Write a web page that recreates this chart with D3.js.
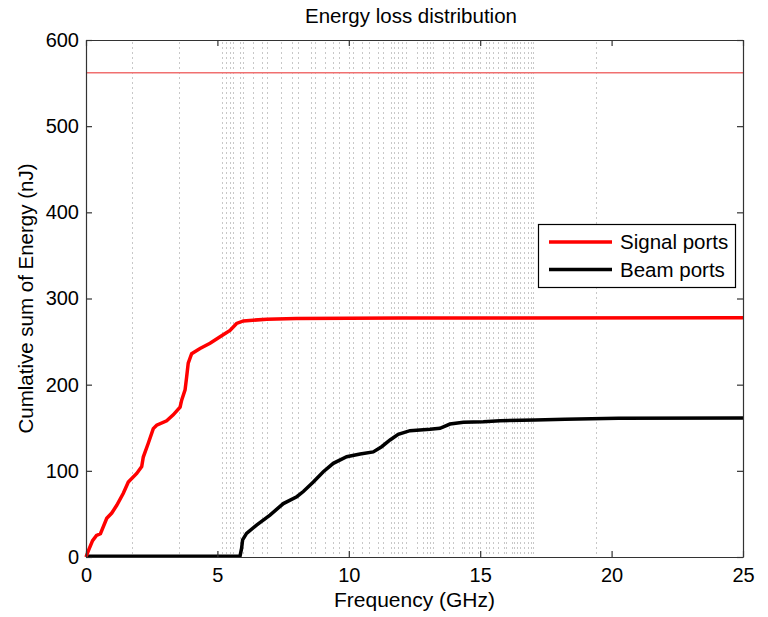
<!DOCTYPE html>
<html>
<head>
<meta charset="utf-8">
<script src="https://cdn.jsdelivr.net/npm/d3@7"></script>
<style>
  body { margin: 0; background: #fff; }
  svg { display: block; font-family: "Liberation Sans", Arial, sans-serif; }
</style>
</head>
<body>
<div id="chart"></div>
<script>
// Data
const signalPorts = [ // [GHz, nJ]
  [0, 0], [0.1, 8], [0.25, 19], [0.4, 25], [0.55, 27], [0.79, 45], [0.98, 51],
  [1.17, 60], [1.42, 74], [1.61, 87], [1.93, 97], [2.12, 105], [2.18, 116],
  [2.37, 132], [2.56, 149], [2.69, 153], [3.07, 158], [3.32, 165], [3.58, 174],
  [3.64, 182], [3.77, 194], [3.83, 209], [3.89, 225], [4.02, 236], [4.34, 242],
  [4.72, 248], [5.22, 258], [5.48, 263], [5.73, 271], [5.99, 274], [6.88, 276],
  [8, 276.8], [12, 277.3], [25, 277.6]
];
const beamPorts = [
  [0, 0.8], [5.86, 1], [5.92, 10], [5.96, 20], [6.11, 27.5], [6.49, 37],
  [7.0, 48.7], [7.51, 62], [8.02, 70], [8.27, 76], [8.65, 87], [9.03, 99],
  [9.41, 108.7], [9.92, 116.4], [10.43, 119.5], [10.93, 122], [11.25, 128],
  [11.57, 135.8], [11.88, 142.4], [12.33, 146.6], [13.09, 148.2], [13.47, 149.3],
  [13.85, 154.3], [14.36, 156.3], [15.12, 157], [15.75, 158.2], [17.09, 159],
  [18.23, 159.8], [20.26, 161], [25, 161.2]
];
const totalEnergy = 562;
const modeFreqs = [
  1.74, 3.52, 5.19, 5.33, 5.47, 5.61, 5.87, 5.99, 6.34, 6.69, 6.90, 7.42, 7.83,
  8.06, 8.55, 8.73, 9.11, 9.41, 9.61, 10.01, 10.17, 10.49, 10.78, 11.10, 11.29,
  11.61, 11.72, 11.86, 12.01, 12.18, 12.58, 12.81, 12.96, 13.09, 13.19, 13.60,
  13.81, 13.98, 14.30, 14.38, 14.59, 14.70, 14.93, 14.99, 15.22, 15.33, 15.50,
  15.69, 15.92, 15.99, 16.20, 16.29, 16.41, 16.51, 16.68, 16.81, 16.92, 17.02, 19.42
];
const xTicks = [0, 5, 10, 15, 20, 25];
const yTicks = [0, 100, 200, 300, 400, 500, 600];
const legendItems = [
  { name: "Signal ports", color: "#ff0000" },
  { name: "Beam ports", color: "#000000" }
];

const width = 768, height = 617;
const margin = { top: 40, right: 25, bottom: 60, left: 86 };

const svg = d3.select("#chart").append("svg")
  .attr("width", width)
  .attr("height", height);

const x = d3.scaleLinear().domain([0, 25]).range([margin.left, width - margin.right]);
const y = d3.scaleLinear().domain([0, 600]).range([height - margin.bottom, margin.top]);

// mode frequency markers (dotted)
svg.selectAll(".mode")
  .data(modeFreqs)
  .enter()
  .append("line")
  .attr("class", "mode")
  .attr("x1", d => Math.round(x(d)) + 0.5)
  .attr("x2", d => Math.round(x(d)) + 0.5)
  .attr("y1", y(600) + 2)
  .attr("y2", y(0) - 3)
  .attr("stroke", "#c8c8c8")
  .attr("stroke-width", 1)
  .attr("stroke-dasharray", "2,3");

// total energy line
svg.append("line")
  .attr("x1", x(0)).attr("x2", x(25))
  .attr("y1", y(totalEnergy)).attr("y2", y(totalEnergy))
  .attr("stroke", "#f07070")
  .attr("stroke-width", 1.5);

const line = d3.line().x(d => x(d[0])).y(d => y(d[1]));

svg.append("path")
  .datum(beamPorts)
  .attr("d", line)
  .attr("fill", "none")
  .attr("stroke", "#000")
  .attr("stroke-width", 3.5);

svg.append("path")
  .datum(signalPorts)
  .attr("d", line)
  .attr("fill", "none")
  .attr("stroke", "#ff0000")
  .attr("stroke-width", 3.5);

// axes, MATLAB style box with inward ticks
const axisColor = "#333";
const xBottom = svg.append("g")
  .attr("transform", `translate(0,${y(0)})`)
  .call(d3.axisBottom(x).tickValues(xTicks).tickSizeInner(-6).tickSizeOuter(0).tickPadding(11));
const xTop = svg.append("g")
  .attr("transform", `translate(0,${y(600)})`)
  .call(d3.axisTop(x).tickValues(xTicks).tickSizeInner(-6).tickSizeOuter(0).tickFormat(""));
const yLeft = svg.append("g")
  .attr("transform", `translate(${x(0)},0)`)
  .call(d3.axisLeft(y).tickValues(yTicks).tickSizeInner(-6).tickSizeOuter(0).tickPadding(7));
const yRight = svg.append("g")
  .attr("transform", `translate(${x(25)},0)`)
  .call(d3.axisRight(y).tickValues(yTicks).tickSizeInner(-6).tickSizeOuter(0).tickFormat(""));

[xBottom, xTop, yLeft, yRight].forEach(g => {
  g.select(".domain").attr("stroke", axisColor).attr("stroke-width", 1.2);
  g.selectAll(".tick line").attr("stroke", axisColor).attr("stroke-width", 1.2);
  g.selectAll(".tick text").attr("fill", "#000").style("font-size", "20px")
    .style("font-family", "'Liberation Sans', Arial, sans-serif");
});

// labels
svg.append("text")
  .attr("x", 411).attr("y", 23)
  .attr("text-anchor", "middle")
  .style("font-size", "20.5px")
  .text("Energy loss distribution");

svg.append("text")
  .attr("x", (x(0) + x(25)) / 2).attr("y", 607)
  .attr("text-anchor", "middle")
  .style("font-size", "21px")
  .text("Frequency (GHz)");

svg.append("text")
  .attr("transform", `translate(33,${(y(0) + y(600)) / 2}) rotate(-90)`)
  .attr("text-anchor", "middle")
  .style("font-size", "20.5px")
  .text("Cumlative sum of Energy (nJ)");

// legend
const legend = svg.append("g");
legend.append("rect")
  .attr("x", 538.5).attr("y", 224.5)
  .attr("width", 197).attr("height", 63)
  .attr("fill", "#fff")
  .attr("stroke", "#000")
  .attr("stroke-width", 1.2);

const rows = legend.selectAll(".row")
  .data(legendItems)
  .enter()
  .append("g")
  .attr("transform", (d, i) => `translate(0,${242 + i * 27.5})`);
rows.append("line")
  .attr("x1", 549).attr("x2", 612)
  .attr("stroke", d => d.color)
  .attr("stroke-width", 3.5);
rows.append("text")
  .attr("x", 620).attr("y", 7)
  .style("font-size", "20.5px")
  .text(d => d.name);
</script>
</body>
</html>
